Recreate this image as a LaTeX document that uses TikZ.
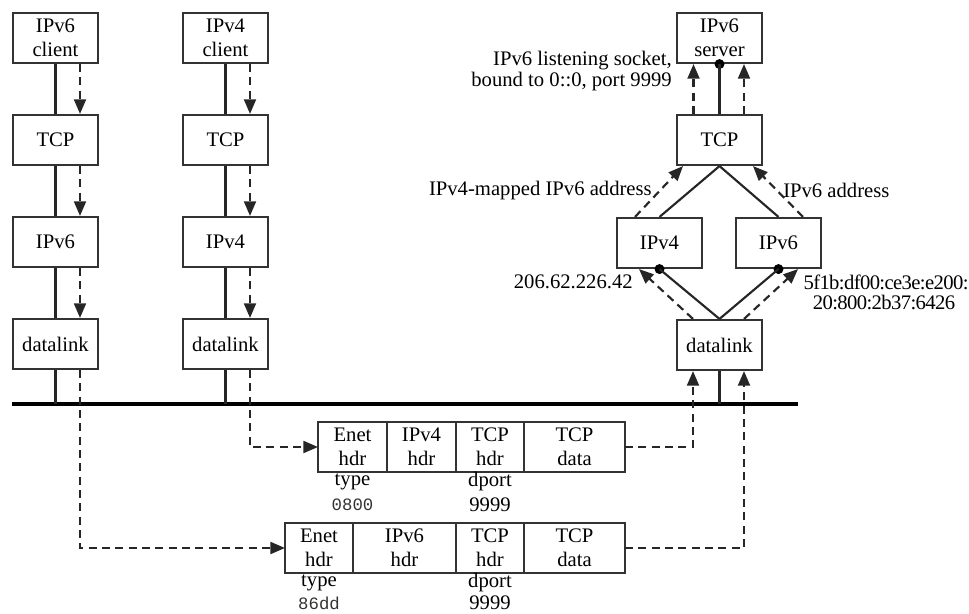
\documentclass[tikz,border=0pt]{standalone}
\usepackage{fontspec}
\setmainfont{Liberation Serif}
\newfontfamily\monof{Liberation Mono}
\usetikzlibrary{arrows.meta,calc}
\begin{document}
\begin{tikzpicture}[x=0.75pt,y=-0.75pt,
 font=\fontsize{15.5}{18}\selectfont,
 box/.style={draw=black!80, line width=1.6pt, minimum width=63.75pt, minimum height=37.5pt, inner sep=0pt, align=center},
 cell/.style={draw=black!80, line width=1.6pt, minimum height=37.5pt, inner sep=0pt, outer sep=0pt, align=center, anchor=west},
 solidln/.style={line width=1.6pt, draw=black!85},
 dashln/.style={line width=1.6pt, draw=black!85, dash pattern=on 6pt off 4pt},
 arr/.style={-{Triangle[length=11pt,width=9pt]}},
 dotc/.style={circle, fill=black, inner sep=0pt, minimum size=7.5pt},
 lbl/.style={inner sep=0pt},
 mono/.style={inner sep=0pt, font=\monof\fontsize{13}{15}\selectfont, text=black!80}
]
\useasboundingbox (0,0) rectangle (969,613);

% bus
\coordinate (busL) at (12,404);
\coordinate (busR) at (798,404);
\draw[line width=3.2pt] (busL) -- (busR);

% left stack: IPv6 client
\node[box] (c6) at (55.5,38) {IPv6\\client};
\node[box] (t6) at (55.5,140) {TCP};
\node[box] (i6) at (55.5,242) {IPv6};
\node[box] (d6) at (55.5,344) {datalink};
% IPv4 client
\node[box] (c4) at (225.5,38) {IPv4\\client};
\node[box] (t4) at (225.5,140) {TCP};
\node[box] (i4) at (225.5,242) {IPv4};
\node[box] (d4) at (225.5,344) {datalink};

\foreach \a/\b in {c6/t6,t6/i6,i6/d6,c4/t4,t4/i4,i4/d4}{
  \draw[solidln] (\a.south) -- (\b.north);
  \draw[dashln,arr] ($(\a.south)+(24.5,0)$) -- ($(\b.north)+(24.5,0)$);
}
\draw[solidln] (d6.south) -- (d6.south |- busL);
\draw[solidln] (d4.south) -- (d4.south |- busL);

% right stack
\node[box] (sv) at (719.5,38) {IPv6\\server};
\node[box] (tr) at (719.5,140) {TCP};
\node[box] (i4r) at (659.5,243) {IPv4};
\node[box] (i6r) at (778.5,243) {IPv6};
\node[box] (dr) at (719.5,345) {datalink};

\node[dotc] (dsv) at (sv.south) {};
\node[dotc] (dv4) at (i4r.south) {};
\node[dotc] (dv6) at (i6r.south) {};

\draw[solidln] (tr.north) -- (dsv.center);
\draw[solidln] (tr.south) -- (i4r.north);
\draw[solidln] (tr.south) -- (i6r.north);
\draw[solidln] (dr.north) -- (dv4.center);
\draw[solidln] (dr.north) -- (dv6.center);
\draw[solidln] (dr.south) -- (dr.south |- busL);

\draw[dashln,arr] ($(tr.north)+(-26,0)$) -- ($(sv.south)+(-26,0)$);
\draw[dashln,arr] ($(tr.north)+(24.5,0)$) -- ($(sv.south)+(24.5,0)$);
\draw[dashln,arr] ($(i4r.north)+(-24.5,0)$) -- ($(tr.south)+(-36.5,0)$);
\draw[dashln,arr] ($(i6r.north)+(24.5,0)$) -- ($(tr.south)+(33.5,0)$);
\draw[dashln,arr] ($(dr.north)+(-26.5,0)$) -- ($(i4r.south)+(-20.5,0)$);
\draw[dashln,arr] ($(dr.north)+(24.5,0)$) -- ($(i6r.south)+(19.5,0)$);

% packets
\node[cell, minimum width=51.75pt] (p1e) at (318,447) {Enet\\hdr};
\node[cell, minimum width=51.75pt] (p1i) at (p1e.east) {IPv4\\hdr};
\node[cell, minimum width=51pt] (p1t) at (p1i.east) {TCP\\hdr};
\node[cell, minimum width=75.75pt] (p1d) at (p1t.east) {TCP\\data};

\node[cell, minimum width=51pt] (p2e) at (285,548) {Enet\\hdr};
\node[cell, minimum width=77.25pt] (p2i) at (p2e.east) {IPv6\\hdr};
\node[cell, minimum width=51pt] (p2t) at (p2i.east) {TCP\\hdr};
\node[cell, minimum width=75.75pt] (p2d) at (p2t.east) {TCP\\data};

\draw[dashln,arr] ($(d4.south)+(24.5,0)$) |- (p1e.west);
\draw[dashln,arr] ($(d6.south)+(24.5,0)$) |- (p2e.west);
\draw[dashln,arr] (p1d.east) -| ($(dr.south)+(-26.5,0)$);
\draw[dashln,arr] (p2d.east) -| ($(dr.south)+(24.5,0)$);

% packet labels
\node[lbl] (ty1) at (352.5,482) {type};
\node[mono] (ty1v) at (352.5,505) {0800};
\node[lbl] (dp1) at (490,482) {dport};
\node[lbl] (dp1v) at (490,505) {9999};
\node[lbl] (ty2) at (319,583) {type};
\node[mono] (ty2v) at (319,603) {86dd};
\node[lbl] (dp2) at (490,583) {dport};
\node[lbl] (dp2v) at (490,603) {9999};

% right labels
\node[lbl, anchor=east] (ls1) at (672,61) {IPv6 listening socket,};
\node[lbl, anchor=east] (ls2) at (672,82) {bound to 0::0, port 9999};
\node[lbl, anchor=east] (m4) at (652,191) {IPv4-mapped IPv6 address};
\node[lbl, anchor=west] (a6) at (783,190) {IPv6 address};
\node[lbl, anchor=east] (ad4) at (633,282) {206.62.226.42};
\node[lbl] (ad6a) at (886,282) {\addfontfeature{LetterSpace=-3}5f1b:df00:ce3e:e200:};
\node[lbl] (ad6b) at (884,302) {\addfontfeature{LetterSpace=-3}20:800:2b37:6426};
\end{tikzpicture}
\end{document}
